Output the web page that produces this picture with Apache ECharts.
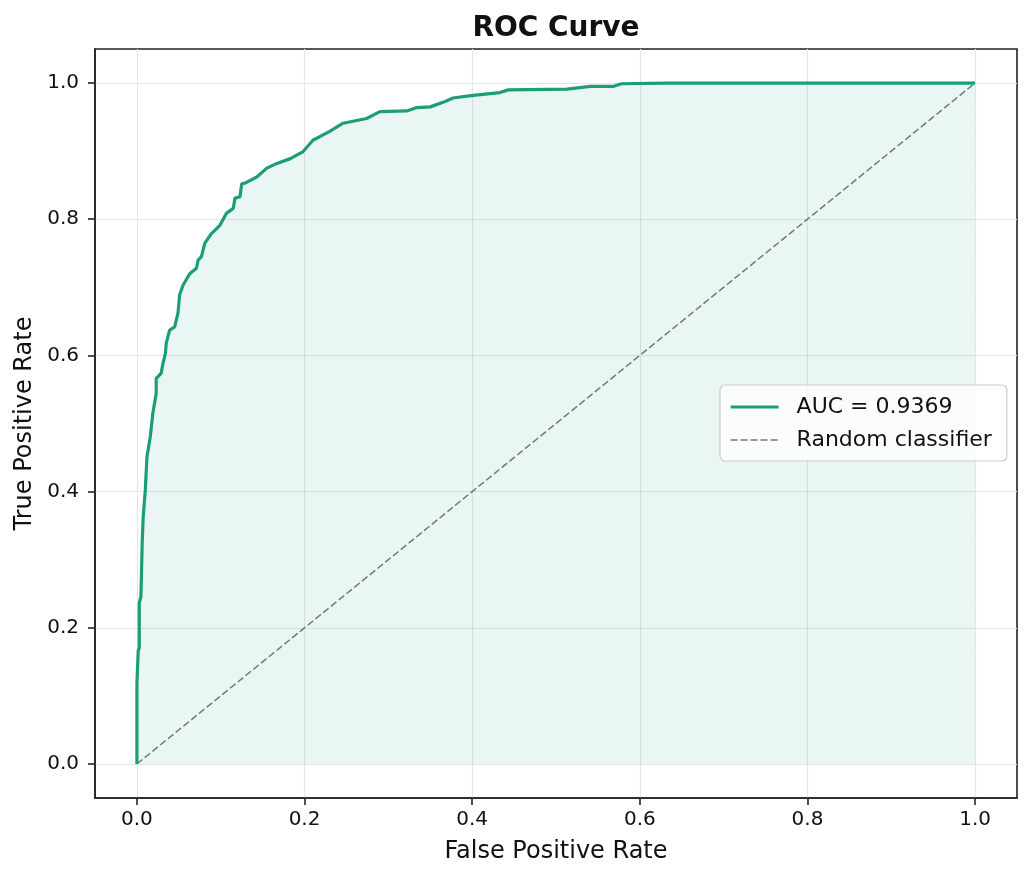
<!DOCTYPE html>
<html>
<head>
<meta charset="utf-8">
<script src="https://cdn.jsdelivr.net/npm/echarts@6/dist/echarts.min.js"></script>
<style>
  html, body { margin: 0; padding: 0; background: #fff; }
  #chart { width: 1032px; height: 880px; }
</style>
</head>
<body>
<div id="chart"></div>
<script>
  // ROC curve points
  const FPR = [
    0, 0, 0.0016, 0.0016, 0.0028, 0.0028, 0.0048, 0.0063, 0.0075, 0.010,
    0.012, 0.016, 0.019, 0.023, 0.023, 0.029, 0.031, 0.034, 0.035, 0.039,
    0.045, 0.049, 0.051, 0.055, 0.063, 0.071, 0.073, 0.077, 0.081, 0.089,
    0.099, 0.107, 0.115, 0.117, 0.123, 0.125, 0.129, 0.143, 0.155, 0.167,
    0.183, 0.195, 0.198, 0.210, 0.230, 0.246, 0.274, 0.290, 0.322, 0.334,
    0.350, 0.366, 0.377, 0.401, 0.433, 0.443, 0.513, 0.541, 0.568, 0.578,
    0.632, 1.0,
  ];
  const TPR = [
    0, 0.118, 0.120, 0.167, 0.170, 0.236, 0.246, 0.324, 0.363, 0.402,
    0.451, 0.481, 0.515, 0.544, 0.566, 0.574, 0.588, 0.603, 0.618, 0.637,
    0.642, 0.662, 0.689, 0.703, 0.720, 0.728, 0.740, 0.745, 0.765, 0.779,
    0.791, 0.809, 0.816, 0.831, 0.833, 0.852, 0.853, 0.862, 0.875, 0.882,
    0.889, 0.897, 0.899, 0.916, 0.929, 0.941, 0.948, 0.958, 0.959, 0.964,
    0.965, 0.972, 0.978, 0.982, 0.986, 0.990, 0.991, 0.995, 0.995, 0.999,
    1.0, 1.0,
  ];
  const DIAG_X = [0, 1];
  const DIAG_Y = [0, 1];
  const TICKS = [0, 0.2, 0.4, 0.6, 0.8, 1.0];
  const AUC_LABEL = 'AUC = 0.9369';
  const RANDOM_LABEL = 'Random classifier';

  const FONT = "'DejaVu Sans', sans-serif";
  const INK = '#111111';
  const FRAME = '#222222';
  const GREEN = '#1b9e77';
  const DASH_GREY = '#747a76';

  function axis(name, nameGap, labelMargin) {
    return {
      type: 'value',
      min: -0.05,
      max: 1.05,
      name,
      nameLocation: 'middle',
      nameGap,
      nameTextStyle: { fontSize: 24, color: INK, fontFamily: FONT },
      axisLine: { show: true, onZero: false, lineStyle: { color: FRAME, width: 1.6 } },
      axisTick: { show: true, customValues: TICKS, length: 7, lineStyle: { color: FRAME, width: 1.6 } },
      axisLabel: {
        customValues: TICKS,
        formatter: (v) => v.toFixed(1),
        fontSize: 20, color: INK, fontFamily: FONT, margin: labelMargin,
      },
      splitLine: { show: true, lineStyle: { color: '#e6e6e6', width: 1.2 } },
    };
  }

  const chart = echarts.init(document.getElementById('chart'), null, { renderer: 'canvas' });
  chart.setOption({
    animation: false,
    backgroundColor: '#ffffff',
    textStyle: { fontFamily: FONT },
    title: {
      text: 'ROC Curve',
      left: 556,
      top: 15,
      padding: 0,
      textAlign: 'center',
      textStyle: { fontSize: 28, fontWeight: 'bold', color: INK, fontFamily: FONT },
    },
    grid: {
      left: 95, right: 15, top: 49, bottom: 82,
      show: true, borderColor: FRAME, borderWidth: 1.6, backgroundColor: 'transparent',
    },
    xAxis: axis('False Positive Rate', 42, 12),
    yAxis: axis('True Positive Rate', 56, 16),
    legend: {
      orient: 'vertical',
      left: 720,
      top: 385,
      backgroundColor: 'rgba(255,255,255,0.8)',
      borderColor: '#cccccc',
      borderWidth: 1.2,
      borderRadius: 5,
      padding: [11, 15, 10, 9],
      itemWidth: 48,
      itemHeight: 14,
      itemGap: 11,
      // hide the default dot drawn in the middle of line icons
      itemStyle: { opacity: 0, borderWidth: 0 },
      textStyle: { fontSize: 22, color: INK, fontFamily: FONT, padding: [0, 0, 0, 13] },
      data: [
        { name: AUC_LABEL, lineStyle: { width: 3.2 } },
        { name: RANDOM_LABEL, lineStyle: { width: 1.5 } },
      ],
    },
    series: [
      {
        name: AUC_LABEL,
        type: 'line',
        data: FPR.map((x, i) => [x, TPR[i]]),
        symbol: 'none',
        lineStyle: { color: GREEN, width: 3.2 },
        itemStyle: { color: GREEN },
        areaStyle: { color: 'rgba(27,158,119,0.13)' },
        z: 3,
      },
      {
        name: RANDOM_LABEL,
        type: 'line',
        data: DIAG_X.map((x, i) => [x, DIAG_Y[i]]),
        symbol: 'none',
        lineStyle: { color: DASH_GREY, width: 1.5, type: [7, 3] },
        itemStyle: { color: DASH_GREY },
        z: 2,
      },
    ],
  });
</script>
</body>
</html>
